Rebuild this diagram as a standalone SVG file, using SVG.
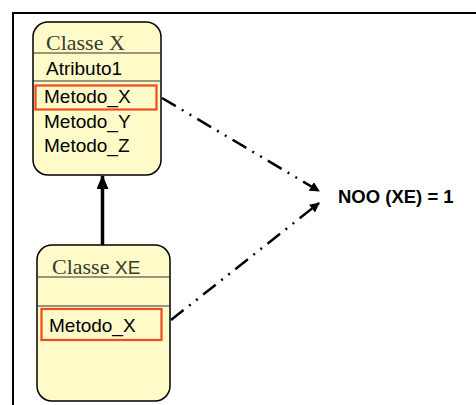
<svg xmlns="http://www.w3.org/2000/svg" width="476" height="405" viewBox="0 0 476 405">
  <style>
    .box { fill: #FFFBC8; stroke: #000; stroke-width: 1.5; }
    .sep { stroke: #333; stroke-width: 1.2; }
    .hl { fill: none; stroke: #F04A1E; stroke-width: 2.2; }
    .title { font-family: "Liberation Serif", serif; font-size: 22px; fill: #3a3a30; }
    .sans { font-family: "Liberation Sans", Arial, sans-serif; font-size: 19px; }
    .mem { font-family: "Liberation Sans", Arial, sans-serif; font-size: 19px; fill: #000; }
    .dd { fill: none; stroke: #000; stroke-width: 2.5; stroke-dasharray: 16 7 2 7 2 7; }
    .lbl { font-family: "Liberation Sans", Arial, sans-serif; font-size: 18.5px; font-weight: bold; fill: #000; }
  </style>
  <defs>
    <marker id="arr" markerWidth="10" markerHeight="10" refX="9" refY="5" orient="auto" markerUnits="userSpaceOnUse" viewBox="0 0 10 10">
      <path d="M0,0 L10,5 L0,10 Z" fill="#000"/>
    </marker>
    <marker id="arrBig" markerWidth="14" markerHeight="12" refX="13" refY="6" orient="auto" markerUnits="userSpaceOnUse" viewBox="0 0 14 12">
      <path d="M0,0 L14,6 L0,12 Z" fill="#000"/>
    </marker>
  </defs>
  <rect width="476" height="405" fill="#fff"/>
  <g id="frame">
    <path d="M13,405 V13 H476" fill="none" stroke="#000" stroke-width="2"/>
  </g>
  <g id="connectors">
    <line x1="102.5" y1="245" x2="102.5" y2="176" stroke="#000" stroke-width="3.5" marker-end="url(#arrBig)"/>
    <line x1="162" y1="98" x2="319" y2="191" class="dd" marker-end="url(#arr)"/>
    <line x1="171" y1="320" x2="319" y2="203" class="dd" marker-end="url(#arr)"/>
  </g>
  <g id="classX">
    <rect class="box" x="33" y="22" width="128" height="153" rx="15" ry="15"/>
    <line class="sep" x1="33" y1="53" x2="161" y2="53"/>
    <line class="sep" x1="33" y1="81" x2="161" y2="81"/>
    <text class="title" x="46" y="50">Classe X</text>
    <text class="mem" x="46" y="75">Atributo1</text>
    <rect class="hl" x="35.5" y="85.5" width="121" height="24"/>
    <text class="mem" x="44" y="103">Metodo_X</text>
    <text class="mem" x="44" y="128">Metodo_Y</text>
    <text class="mem" x="44" y="152">Metodo_Z</text>
  </g>
  <g id="classXE">
    <rect class="box" x="37" y="245" width="133" height="156" rx="15" ry="15"/>
    <line class="sep" x1="37" y1="277" x2="170" y2="277"/>
    <line class="sep" x1="37" y1="306" x2="170" y2="306"/>
    <text class="title" x="52" y="274">Classe <tspan class="sans">XE</tspan></text>
    <rect class="hl" x="41.5" y="309" width="120" height="31"/>
    <text class="mem" x="49" y="332">Metodo_X</text>
  </g>
  <g id="label">
    <text class="lbl" x="338" y="203">NOO (XE) = 1</text>
  </g>
</svg>
